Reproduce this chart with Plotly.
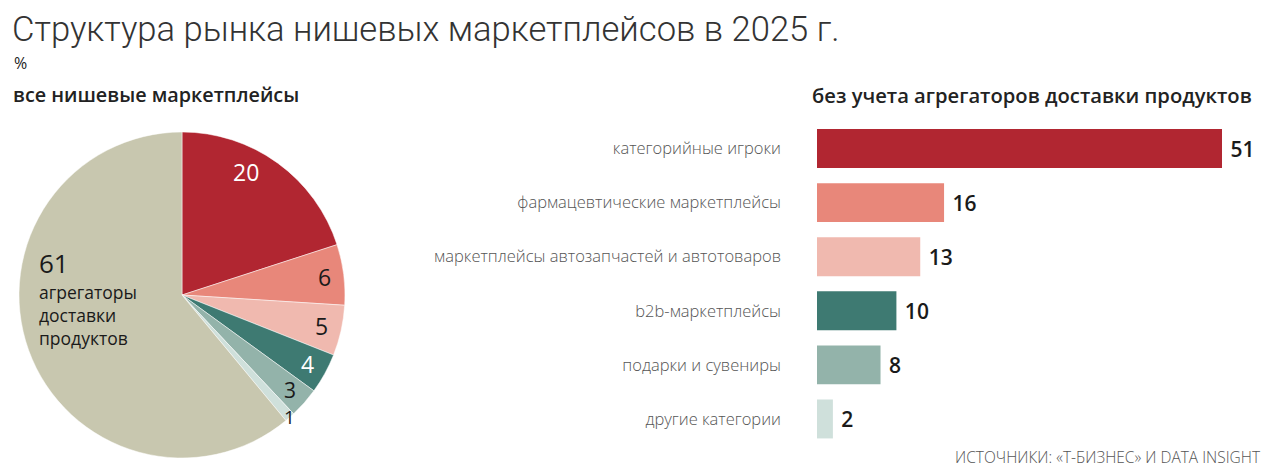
import math
import plotly.graph_objects as go

W, H = 1274, 473

# ---------------- data ----------------
pie_labels = ["категорийные игроки", "фармацевтические маркетплейсы",
              "маркетплейсы автозапчастей и автотоваров", "b2b-маркетплейсы",
              "подарки и сувениры", "другие категории", "агрегаторы доставки продуктов"]
pie_values = [20, 6, 5, 4, 3, 1, 61]

bar_categories = ["категорийные игроки", "фармацевтические маркетплейсы",
                  "маркетплейсы автозапчастей и автотоваров", "b2b-маркетплейсы",
                  "подарки и сувениры", "другие категории"]
bar_values = [51, 16, 13, 10, 8, 2]

title_text = "Структура рынка нишевых маркетплейсов в 2025 г."
unit_text = "%"
left_sub = "все нишевые маркетплейсы"
right_sub = "без учета агрегаторов доставки продуктов"
source_text = "ИСТОЧНИКИ: «Т-БИЗНЕС» И DATA INSIGHT"
big_slice_text = "агрегаторы<br>доставки<br>продуктов"

# ---------------- styles ----------------
pie_colors = ["#B12631", "#E8877A", "#F0B9AF", "#3E7A72", "#93B3AA", "#CFE0DB", "#C8C7AF"]
bar_colors = pie_colors[:6]
pie_label_colors = ["white", "#1a1a1a", "#1a1a1a", "white", "#1a1a1a", "#1a1a1a"]
pie_label_sizes = [23, 23, 23, 23, 21, 19]
pie_label_frac = [0.38, 0.5, 0.5, 0.5, 0.5, 0.5]   # position along slice angle
pie_label_rad = [0.85, 0.88, 0.88, 0.88, 0.885, 1.0]
FONT = "Open Sans"
TITLE_FONT = "Roboto"

# pie geometry in pixels
pie_x0, pie_x1 = 19, 345
pie_top, pie_bot = 132, 458
cx, cy = (pie_x0 + pie_x1) / 2, (pie_top + pie_bot) / 2
R = (pie_x1 - pie_x0) / 2

fig = go.Figure()

fig.add_trace(go.Pie(
    labels=pie_labels, values=pie_values, sort=False, direction="clockwise",
    rotation=0, marker=dict(colors=pie_colors, line=dict(color="white", width=0.5)),
    textinfo="none", hoverinfo="label+value", showlegend=False,
    domain=dict(x=[pie_x0 / W, pie_x1 / W], y=[1 - pie_bot / H, 1 - pie_top / H]),
))

# pie value labels, positioned from the cumulative data angles
total = sum(pie_values)
cum = 0
for i, v in enumerate(pie_values[:-1]):
    a0 = cum / total * 360
    a1 = (cum + v) / total * 360
    cum += v
    ang = math.radians(a0 + (a1 - a0) * pie_label_frac[i])
    px = cx + R * pie_label_rad[i] * math.sin(ang)
    py = cy - R * pie_label_rad[i] * math.cos(ang)
    fig.add_annotation(x=px / W, y=1 - py / H, xref="paper", yref="paper",
                       xanchor="center", yanchor="middle", borderpad=0,
                       text=str(v), showarrow=False,
                       font=dict(family=FONT, size=pie_label_sizes[i],
                                 color=pie_label_colors[i]))

# big slice label
fig.add_annotation(x=38 / W, y=1 - 263 / H, xref="paper", yref="paper",
                   xanchor="left", yanchor="middle", showarrow=False, borderpad=0,
                   text=str(pie_values[-1]),
                   font=dict(family=FONT, size=26, color="#1a1a1a"))
fig.add_annotation(x=38 / W, y=1 - 279 / H, xref="paper", yref="paper",
                   xanchor="left", yanchor="top", align="left", showarrow=False,
                   borderpad=0, text=big_slice_text,
                   font=dict(family=FONT, size=17.5, color="#1a1a1a"))

# bars
fig.add_trace(go.Bar(
    x=bar_values, y=bar_categories, orientation="h",
    marker=dict(color=bar_colors, line=dict(width=0)),
    text=[str(v) for v in bar_values], textposition="outside",
    texttemplate="\u00a0%{text}",
    textfont=dict(family=FONT, size=21, color="#1a1a1a", weight=600),
    cliponaxis=False, showlegend=False, width=0.72,
))

fig.update_layout(
    width=W, height=H, margin=dict(l=0, r=0, t=0, b=0),
    paper_bgcolor="white", plot_bgcolor="white",
    font=dict(family=FONT, color="#333"),
    xaxis=dict(domain=[817 / W, 1222 / W], range=[0, 51], visible=False, fixedrange=True),
    yaxis=dict(domain=[1 - 446 / H, 1 - 121.5 / H], autorange="reversed",
               showgrid=False, zeroline=False, showline=False, ticks="",
               ticklabelstandoff=35, fixedrange=True,
               tickfont=dict(family=FONT, size=16.5, color="#555", weight=300)),
)

fig.add_annotation(x=10 / W, y=1 - 7 / H, xref="paper", yref="paper",
                   xanchor="left", yanchor="top", showarrow=False, text=title_text,
                   font=dict(family=TITLE_FONT, size=34.6, color="#333", weight=300))
fig.add_annotation(x=12 / W, y=1 - 50 / H, xref="paper", yref="paper",
                   xanchor="left", yanchor="top", showarrow=False, text=unit_text,
                   font=dict(family=FONT, size=16, color="#222"))
fig.add_annotation(x=11 / W, y=1 - 79 / H, xref="paper", yref="paper",
                   xanchor="left", yanchor="top", showarrow=False, text=left_sub,
                   font=dict(family=FONT, size=19.8, color="#222", weight=600))
fig.add_annotation(x=1254 / W, y=1 - 79 / H, xref="paper", yref="paper",
                   xanchor="right", yanchor="top", showarrow=False, text=right_sub,
                   font=dict(family=FONT, size=20.2, color="#222", weight=600))
fig.add_annotation(x=1263 / W, y=1 - 444 / H, xref="paper", yref="paper",
                   xanchor="right", yanchor="top", showarrow=False, text=source_text,
                   font=dict(family=FONT, size=15.5, color="#555", weight=300))

fig.write_html("out.html", config={"displayModeBar": False},
               post_script="document.body.style.margin='0';")
